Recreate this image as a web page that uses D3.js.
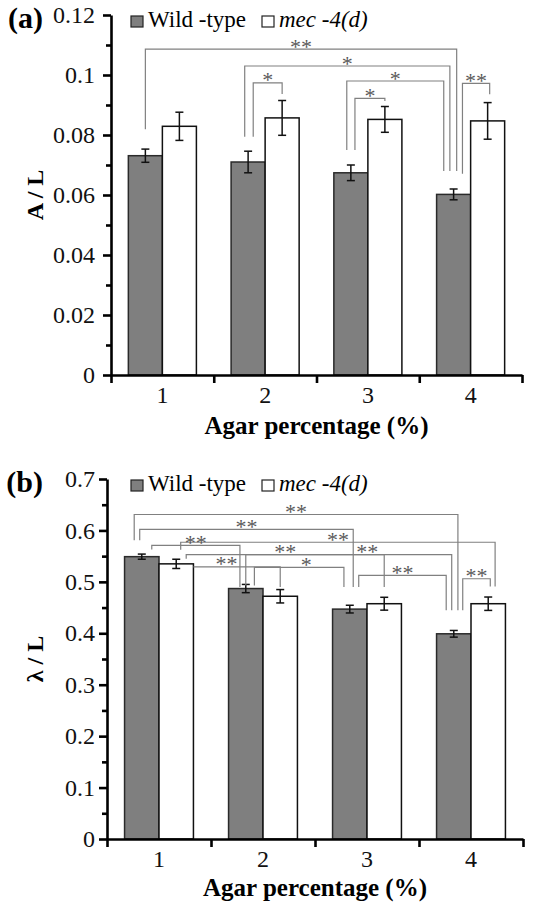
<!DOCTYPE html>
<html>
<head>
<meta charset="utf-8">
<script src="https://cdn.jsdelivr.net/npm/d3@7"></script>
<style>
body { margin: 0; background: #fff; }
svg { display: block; }
</style>
</head>
<body>
<svg id="chart" width="534" height="906"></svg>
<script>
var FONT = "Liberation Serif";
var categories = ["1", "2", "3", "4"];
var seriesNames = ["Wild -type", "mec -4(d)"];

// panel (a): A / L
var aWild = [0.0731, 0.0710, 0.0674, 0.0602];
var aWildErr = [0.0022, 0.0036, 0.0026, 0.0018];
var aMec = [0.0829, 0.0857, 0.0852, 0.0847];
var aMecErr = [0.0047, 0.0058, 0.0043, 0.0061];
var aTicks = [0, 0.02, 0.04, 0.06, 0.08, 0.1, 0.12];
var aTickLabels = ["0", "0.02", "0.04", "0.06", "0.08", "0.1", "0.12"];
var aMinor = [0.01, 0.03, 0.05, 0.07, 0.09, 0.11];
// brackets: [category, series, offset in bar widths], level and leg ends in data units
var aBrackets = [
    {from: [0, 0, 0], to: [3, 0, 0.09], level: 0.1086, lb: 0.0819, rb: 0.068, label: "**"},
    {from: [1, 0, -0.1], to: [3, 0, -0.11], level: 0.103, lb: 0.0794, rb: 0.068, label: "*"},
    {from: [1, 0, 0.15], to: [1, 1, 0], level: 0.0974, lb: 0.0794, rb: 0.0937, label: "*"},
    {from: [2, 0, -0.12], to: [3, 0, -0.29], level: 0.098, lb: 0.075, rb: 0.068, label: "*"},
    {from: [2, 0, 0.12], to: [2, 1, 0], level: 0.0922, lb: 0.075, rb: 0.0913, label: "*"},
    {from: [3, 0, 0.26], to: [3, 1, 0.06], level: 0.0972, lb: 0.0671, rb: 0.0936, label: "**"}
];

// panel (b): lambda / L
var bWild = [0.549, 0.487, 0.447, 0.399];
var bWildErr = [0.005, 0.008, 0.0075, 0.0065];
var bMec = [0.535, 0.472, 0.4575, 0.4575];
var bMecErr = [0.009, 0.013, 0.0125, 0.013];
var bTicks = [0, 0.1, 0.2, 0.3, 0.4, 0.5, 0.6, 0.7];
var bTickLabels = ["0", "0.1", "0.2", "0.3", "0.4", "0.5", "0.6", "0.7"];
var bMinor = [0.05, 0.15, 0.25, 0.35, 0.45, 0.55, 0.65];
var bBrackets = [
    {from: [0, 0, -0.22], to: [3, 0, 0.12], level: 0.631, lb: 0.581, rb: 0.445, label: "**"},
    {from: [0, 0, -0.06], to: [2, 0, 0.1], level: 0.602, lb: 0.581, rb: 0.490, label: "**"},
    {from: [0, 1, 0.13], to: [3, 1, 0.2], level: 0.577, lb: 0.5625, rb: 0.491, label: "**"},
    {from: [0, 0, 0.29], to: [1, 0, -0.17], level: 0.571, lb: 0.563, rb: 0.490, label: "**"},
    {from: [0, 1, 0.29], to: [2, 1, 0], level: 0.553, lb: 0.545, rb: 0.490, label: "**"},
    {from: [1, 0, 0], to: [3, 0, -0.06], level: 0.553, lb: 0.493, rb: 0.445, label: "**", at: 0.59},
    {from: [0, 1, 0.5], to: [1, 1, 0], level: 0.529, lb: 0.529, rb: 0.490, label: "**", at: 0.38},
    {from: [1, 0, 0.25], to: [2, 0, -0.17], level: 0.528, lb: 0.493, rb: 0.490, label: "*", at: 0.58},
    {from: [2, 0, 0.26], to: [3, 0, -0.22], level: 0.5126, lb: 0.490, rb: 0.445, label: "**"},
    {from: [3, 0, 0.26], to: [3, 1, 0.06], level: 0.506, lb: 0.445, rb: 0.491, label: "**"}
];

var svg = d3.select("#chart");

function drawPanel(p) {
    var g = svg.append("g");
    var x = d3.scaleBand().domain(categories).range([p.left, p.right]);
    var x1 = d3.scaleBand().domain([0, 1]).range([0, x.bandwidth()]).paddingOuter(0.51);
    var xEdge = d3.scaleLinear().domain([0, categories.length]).range([p.left, p.right]);
    var y = d3.scaleLinear().domain([0, p.max]).range([p.bottom, p.top]);

    var bars = [];
    categories.forEach((c, i) => {
        bars.push({c: c, s: 0, v: p.wild[i], e: p.wildErr[i]});
        bars.push({c: c, s: 1, v: p.mec[i], e: p.mecErr[i]});
    });

    g.selectAll("rect.bar").data(bars).enter().append("rect")
        .attr("class", "bar")
        .attr("x", d => x(d.c) + x1(d.s))
        .attr("y", d => y(d.v))
        .attr("width", x1.bandwidth())
        .attr("height", d => y(0) - y(d.v))
        .attr("fill", d => d.s === 0 ? "#7f7f7f" : "#fff")
        .attr("stroke", d => d.s === 0 ? "#2a2a2a" : "#111")
        .attr("stroke-width", 1.5);

    var cx = d => x(d.c) + x1(d.s) + x1.bandwidth() / 2;
    var err = g.selectAll("g.err").data(bars).enter().append("g")
        .attr("stroke", "#111").attr("stroke-width", 1.5);
    err.append("line").attr("x1", cx).attr("x2", cx)
        .attr("y1", d => y(d.v - d.e)).attr("y2", d => y(d.v + d.e));
    err.append("line").attr("x1", d => cx(d) - 4).attr("x2", d => cx(d) + 4)
        .attr("y1", d => y(d.v - d.e)).attr("y2", d => y(d.v - d.e));
    err.append("line").attr("x1", d => cx(d) - 4).attr("x2", d => cx(d) + 4)
        .attr("y1", d => y(d.v + d.e)).attr("y2", d => y(d.v + d.e));

    // significance brackets
    var bx = a => x(categories[a[0]]) + x1(a[1]) + x1.bandwidth() * (0.5 + a[2]);
    g.selectAll("path.br").data(p.brackets).enter().append("path")
        .attr("fill", "none").attr("stroke", "#808080").attr("stroke-width", 1.2)
        .attr("d", d => "M" + bx(d.from) + "," + y(d.lb) + "V" + y(d.level) +
            "H" + bx(d.to) + "V" + y(d.rb));
    g.selectAll("text.br").data(p.brackets).enter().append("text")
        .attr("x", d => {
            var t = d.at === undefined ? 0.5 : d.at;
            return bx(d.from) + (bx(d.to) - bx(d.from)) * t;
        })
        .attr("y", d => y(d.level) + 4.5)
        .attr("text-anchor", "middle")
        .attr("font-size", 22)
        .attr("fill", "#5a5a5a")
        .style("font-family", FONT)
        .text(d => d.label);

    // axes
    g.append("g").attr("transform", "translate(" + p.left + ",0)")
        .call(d3.axisLeft(y).tickValues(p.ticks).tickFormat((d, i) => p.tickLabels[i])
            .tickSize(8).tickSizeOuter(0).tickPadding(p.yPad));
    g.append("g").attr("transform", "translate(" + p.left + ",0)")
        .call(d3.axisLeft(y).tickValues(p.minor).tickFormat("").tickSize(5).tickSizeOuter(0))
        .call(s => s.select(".domain").remove());
    g.append("g").attr("transform", "translate(0," + p.bottom + ")")
        .call(d3.axisBottom(xEdge).tickValues(d3.range(categories.length + 1))
            .tickFormat("").tickSize(8).tickSizeOuter(0));
    g.append("g").attr("transform", "translate(0," + p.bottom + ")")
        .call(d3.axisBottom(x).tickSize(0).tickPadding(p.xPad))
        .call(s => s.select(".domain").remove());

    g.selectAll(".domain, .tick line").attr("stroke", "#000").attr("stroke-width", 2.6);
    g.selectAll(".tick text").attr("font-size", 24).attr("fill", "#111")
        .style("font-family", FONT);

    // titles
    g.append("text").attr("x", (p.left + p.right) / 2).attr("y", p.xTitleY)
        .attr("text-anchor", "middle").attr("font-size", 25).attr("font-weight", "bold")
        .style("font-family", FONT)
        .text("Agar percentage (%)");
    g.append("text")
        .attr("transform", "translate(43," + (p.top + p.bottom) / 2 + ") rotate(-90)")
        .attr("text-anchor", "middle").attr("font-size", 24).attr("font-weight", "bold")
        .style("font-family", FONT)
        .text(p.yTitle);
    g.append("text").attr("x", 43).attr("y", p.top + 13).attr("text-anchor", "end")
        .attr("font-size", 30).attr("font-weight", "bold")
        .style("font-family", FONT).text(p.letter);

    // legend
    var leg = g.selectAll("g.leg").data(seriesNames).enter().append("g")
        .attr("transform", (d, i) => "translate(" + (i === 0 ? 131 : 262) + "," + (p.top + 1) + ")");
    leg.append("rect").attr("width", 12).attr("height", 11)
        .attr("fill", (d, i) => i === 0 ? "#7f7f7f" : "#fff")
        .attr("stroke", "#222").attr("stroke-width", 1.2);
    leg.append("text").attr("x", 17).attr("y", 11).attr("font-size", 23)
        .attr("font-style", (d, i) => i === 1 ? "italic" : "normal")
        .style("font-family", FONT)
        .text(d => d);
}

drawPanel({
    left: 111, right: 522, top: 15, bottom: 375, max: 0.12,
    wild: aWild, wildErr: aWildErr, mec: aMec, mecErr: aMecErr,
    ticks: aTicks, tickLabels: aTickLabels, minor: aMinor, brackets: aBrackets,
    yPad: 8, xPad: 11, xTitleY: 434, yTitle: "A / L", letter: "(a)"
});
drawPanel({
    left: 107, right: 523, top: 479, bottom: 839, max: 0.7,
    wild: bWild, wildErr: bWildErr, mec: bMec, mecErr: bMecErr,
    ticks: bTicks, tickLabels: bTickLabels, minor: bMinor, brackets: bBrackets,
    yPad: 4, xPad: 11, xTitleY: 896, yTitle: "λ / L", letter: "(b)"
});
</script>
</body>
</html>
